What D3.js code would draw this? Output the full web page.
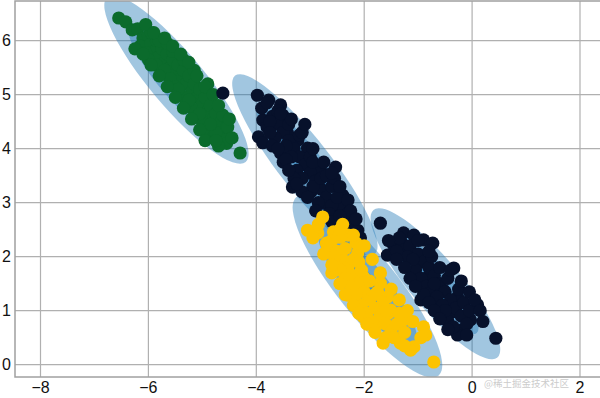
<!DOCTYPE html>
<html><head><meta charset="utf-8">
<script src="https://cdn.jsdelivr.net/npm/d3@7"></script>
<style>html,body{margin:0;padding:0;background:#fff;}svg{display:block;}</style>
</head><body>
<svg id="c" width="600" height="398"></svg>
<script>
const xTicks = [-8, -6, -4, -2, 0, 2];
const yTicks = [0, 1, 2, 3, 4, 5, 6];

const greenPts = [[-6.55,6.42],[-6.42,6.35],[-6.3,6.2],[-6.2,6.22],[-6.1,6.05],[-6.15,5.9],[-6.0,6.1],[-5.95,5.95],[-5.9,5.8],[-6.05,5.78],[-5.85,6.0],[-5.8,5.7],[-5.75,5.85],[-5.7,5.6],[-5.85,5.55],[-5.65,5.75],[-5.6,5.5],[-5.55,5.65],[-5.5,5.4],[-5.7,5.45],[-5.45,5.55],[-5.4,5.3],[-5.6,5.3],[-5.35,5.45],[-5.3,5.2],[-5.5,5.15],[-5.25,5.35],[-5.2,5.05],[-5.4,5.0],[-5.15,5.2],[-5.1,4.95],[-5.3,4.85],[-5.05,5.1],[-5.0,4.85],[-5.2,4.75],[-4.95,4.95],[-4.9,4.7],[-5.1,4.6],[-4.85,4.8],[-4.8,4.55],[-5.0,4.5],[-4.75,4.65],[-4.7,4.4],[-4.9,4.35],[-4.65,4.5],[-4.6,4.25],[-4.8,4.2],[-4.55,4.1],[-4.7,4.05],[-4.3,3.92],[-4.9,5.2],[-4.75,4.3],[-5.8,6.0],[-6.0,5.65],[-5.45,5.1],[-5.25,4.9],[-5.55,5.8],[-5.95,6.15],[-5.05,4.65],[-4.85,4.45],[-5.65,5.95],[-5.35,5.65],[-4.62,4.62],[-5.15,5.45],[-4.55,4.4],[-4.53,4.4],
  [-6.25,5.85],[-6.1,5.75],[-5.95,5.55],[-5.8,5.35],[-5.65,5.15],[-5.5,4.95],[-5.35,4.75],[-5.2,4.55],[-5.05,4.35],[-4.95,4.15],[-6.05,6.3],[-5.9,6.15],[-5.7,6.05],[-5.55,5.9],[-5.4,5.75],[-5.25,5.6],[-5.1,5.35],[-4.95,5.15],[-4.8,5.0],[-4.7,4.8],[-4.5,4.55],[-4.45,4.2],[-4.75,4.15]];

const navyUpperPts = [[-3.98,4.99],[-3.77,4.90],[-3.55,4.81],[-3.51,4.62],[-3.88,4.53],[-3.96,4.22],[-3.88,4.11],[-3.42,4.29],[-3.23,4.16],[-3.05,4.01],[-3.55,3.92],[-2.53,3.66],[-2.81,3.61],[-3.33,3.29],[-2.99,3.20],[-2.40,3.14],[-2.49,2.86],[-2.20,2.55],[-2.07,2.35],[-2.75,2.99],[-2.44,2.92],[-2.12,2.49],[-2.07,2.25],[-4.62,5.03],[-3.7,4.6],[-3.6,4.45],[-3.5,4.3],[-3.4,4.15],[-3.3,4.0],[-3.2,3.85],[-3.1,3.7],[-3.0,3.55],[-2.9,3.4],[-2.8,3.25],[-2.7,3.1],[-2.6,2.95],[-3.8,4.4],[-3.65,4.2],[-3.45,4.05],[-3.35,3.85],[-3.25,3.6],[-3.15,3.45],[-2.95,3.3],[-2.85,3.0],[-2.65,2.8],[-2.35,2.65],[-3.6,4.7],[-3.4,4.45],[-3.2,4.25],[-3.0,3.85],[-2.8,3.45],[-2.6,3.3],[-2.5,3.1],[-3.7,4.05],[-3.5,3.75],[-3.9,4.75],[-3.75,4.5],[-2.95,3.75],[-2.7,3.5],[-2.55,3.45],[-2.3,2.8],[-3.3,3.45],[-3.15,3.2],
  [-3.75,4.3],[-3.6,4.0],[-3.45,3.8],[-3.4,3.6],[-3.25,3.35],[-3.35,4.55],[-3.15,4.3],[-2.95,4.0],[-2.75,3.75],[-2.6,3.55],[-2.45,3.3],[-2.3,3.05],[-2.25,2.85],[-2.15,2.7],[-3.55,4.65],[-3.8,4.85],[-2.6,2.65],[-2.45,2.75],[-3.05,3.1],[-2.9,2.85],[-3.1,4.45]];

const yellowPts = [[-2.77,2.735],[-3.05,2.49],[-2.86,2.44],[-2.57,2.46],[-2.44,2.36],[-2.68,2.18],[-2.49,1.88],[-2.12,2.07],[-2.01,1.62],[-1.70,1.51],[-2.31,1.29],[-1.94,1.20],[-1.57,1.25],[-1.51,1.01],[-2.01,0.88],[-1.27,0.83],[-1.70,0.77],[-0.90,0.70],[-0.86,0.55],[-1.33,0.40],[-1.08,0.33],[-1.14,0.27],[-0.71,0.05],[-2.6,2.3],[-2.5,2.1],[-2.4,1.95],[-2.3,1.8],[-2.2,1.65],[-2.1,1.5],[-2.0,1.35],[-1.9,1.2],[-1.8,1.05],[-1.7,0.9],[-1.6,0.75],[-1.5,0.6],[-2.55,2.0],[-2.45,1.75],[-2.35,1.6],[-2.25,1.45],[-2.15,1.3],[-2.05,1.1],[-1.95,0.95],[-1.85,0.8],[-2.7,2.25],[-2.35,2.15],[-2.2,1.95],[-2.05,1.75],[-1.9,1.55],[-1.75,1.35],[-1.65,1.15],[-1.55,0.95],[-1.4,0.75],[-1.45,0.5],[-2.3,2.4],[-2.15,2.25],[-2.6,1.7],[-1.8,1.3],[-1.25,0.6],[-1.6,0.5],[-1.35,0.95],[-2.45,2.5],[-2.85,2.6],[-2.1,1.9],
  [-2.95,2.35],[-2.75,2.05],[-2.6,1.85],[-2.45,1.5],[-2.35,1.3],[-2.2,1.1],[-2.1,0.95],[-1.95,0.75],[-1.8,0.6],[-1.65,0.4],[-2.4,2.6],[-2.2,2.4],[-2.0,2.2],[-1.85,1.95],[-1.7,1.7],[-1.5,1.4],[-1.35,1.2],[-1.2,1.0],[-1.1,0.8],[-0.95,0.5],[-1.25,0.35],[-1.6,1.0]];

const navyRightPts = [[-1.70,2.62],[-1.27,2.44],[-1.08,2.40],[-0.90,2.31],[-0.73,2.25],[-1.46,2.22],[-1.57,2.03],[-1.20,2.12],[-1.01,1.88],[-0.34,1.79],[-0.82,1.62],[-0.95,1.20],[-0.53,1.38],[-0.27,1.25],[0.10,1.11],[-0.64,1.07],[-0.40,0.96],[-0.03,0.83],[-0.21,0.64],[-0.27,0.55],[0.44,0.49],[-1.3,2.25],[-1.15,2.2],[-1.0,2.05],[-0.9,1.9],[-0.8,1.8],[-0.7,1.65],[-0.6,1.5],[-0.5,1.35],[-0.4,1.2],[-0.3,1.05],[-0.2,0.9],[-0.1,0.75],[-1.2,2.0],[-1.05,1.75],[-0.95,1.6],[-0.85,1.45],[-0.75,1.35],[-0.65,1.25],[-0.55,1.1],[-0.45,0.8],[-0.35,0.7],[-1.35,2.35],[-0.75,2.0],[-0.6,1.8],[-0.45,1.6],[-0.9,1.3],[-0.15,1.15],[-0.05,1.0],[-1.1,1.95],[-0.7,1.5],[-0.25,1.4],[-0.5,1.0],[-1.4,2.1],[-0.8,2.1],
  [-1.55,2.3],[-1.4,1.95],[-1.25,1.8],[-1.15,1.6],[-1.05,1.45],[-0.8,1.15],[-0.7,1.0],[-0.6,0.85],[-0.45,0.65],[-1.0,2.3],[-0.4,1.75],[-0.2,1.55],[-0.05,1.35],[0.05,1.2],[0.15,1.0],[0.2,0.8],[-0.1,0.55]];

// Gaussian components: centre, 1-sigma semi-axes, angle (deg, data coords)
const compCenters = [[-5.48, 5.28], [-3.1, 3.7], [-1.94, 1.45], [-0.68, 1.5]];
const compAxes = [[0.665, 0.165], [0.70, 0.16], [0.705, 0.185], [0.595, 0.155]];
const compAngles = [-50, -52, -51.5, -50];

const svg = d3.select("#c");
const x = d3.scaleLinear().domain([-8, 2]).range([40.5, 580]);
const y = d3.scaleLinear().domain([0, 6]).range([364.7, 40.7]);
const L = 15, T = 1, R = 601, B = 377;

svg.append("defs").append("clipPath").attr("id","clip")
  .append("rect").attr("x",L).attr("y",T).attr("width",R-L).attr("height",B-T);

const grid = svg.append("g");
grid.selectAll(".gx").data(xTicks).join("line")
  .attr("x1", d=>x(d)).attr("x2", d=>x(d)).attr("y1", T).attr("y2", B)
  .attr("stroke", "#b0b0b0").attr("stroke-width", 1.2);
grid.selectAll(".gy").data(yTicks).join("line")
  .attr("y1", d=>y(d)).attr("y2", d=>y(d)).attr("x1", L).attr("x2", R)
  .attr("stroke", "#b0b0b0").attr("stroke-width", 1.2);

const plot = svg.append("g").attr("clip-path","url(#clip)");
const kx = Math.abs(x(1) - x(0)), ky = Math.abs(y(1) - y(0));
compCenters.forEach((c, i) => {
  const g = plot.append("g")
    .attr("transform", `translate(${x(c[0])},${y(c[1])}) rotate(${-compAngles[i]})`);
  [1,2,3].forEach(n => {
    g.append("ellipse").attr("rx", n*compAxes[i][0]*kx).attr("ry", n*compAxes[i][1]*ky)
      .attr("fill", "#1f77b4").attr("fill-opacity", 0.42);
  });
});

const groups = [[greenPts, "#0b6b2c"], [navyUpperPts, "#07112b"], [yellowPts, "#fcc300"], [navyRightPts, "#07112b"]];
groups.forEach(([pts, col]) => {
  plot.append("g").selectAll("circle").data(pts).join("circle")
    .attr("cx", d=>x(d[0])).attr("cy", d=>y(d[1])).attr("r", 6.6).attr("fill", col);
});

svg.append("rect").attr("x",L).attr("y",T).attr("width",R-L).attr("height",B-T)
  .attr("fill","none").attr("stroke","#a0a0a0").attr("stroke-width",1.5);

const fmt = d => (d < 0 ? "\u2212" + Math.abs(d) : String(d));
svg.append("g").selectAll("text").data(xTicks).join("text")
  .attr("x", d=>x(d)).attr("y", 393).attr("text-anchor","middle")
  .attr("font-family","Liberation Sans, Arial, sans-serif").attr("font-size",16).attr("fill","#111")
  .text(fmt);
svg.append("g").selectAll("text").data(yTicks).join("text")
  .attr("x", 11).attr("y", d=>y(d)).attr("dy","0.36em").attr("text-anchor","end")
  .attr("font-family","Liberation Sans, Arial, sans-serif").attr("font-size",16).attr("fill","#111")
  .text(fmt);

svg.append("text").attr("x", 484).attr("y", 387).attr("text-anchor","start")
  .attr("font-family","Noto Sans CJK SC, sans-serif").attr("font-size",9.5).attr("fill","#cccccc")
  .text("@稀土掘金技术社区");
</script>
</body></html>
